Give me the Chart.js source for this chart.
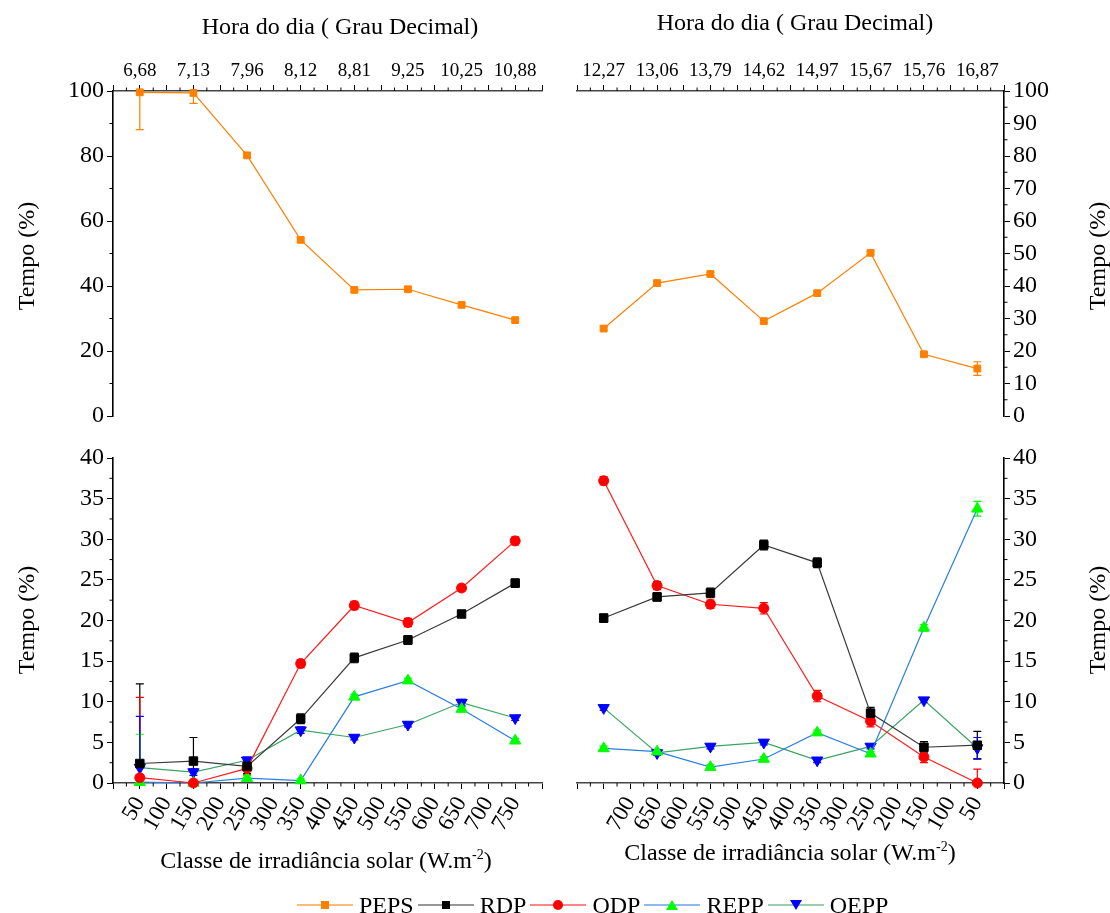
<!DOCTYPE html>
<html>
<head>
<meta charset="utf-8">
<script src="https://cdn.jsdelivr.net/npm/chart.js@4.4.0/dist/chart.umd.min.js"></script>
<style>
  body { margin:0; background:#fff; width:1110px; height:913px; position:relative; overflow:hidden;
         font-family:'Liberation Serif','Times New Roman',serif; color:#000; }
  canvas { position:absolute; left:0; top:0; }
  .t { position:absolute; font-size:24px; white-space:nowrap; transform:translate(-50%,-50%); }
  .v { transform:translate(-50%,-50%) rotate(-90deg); }
  sup { font-size:14px; vertical-align:9px; }
  #legend { position:absolute; left:297px; top:890px; display:flex; align-items:center; font-size:24px; line-height:30px; }
  #legend svg { display:block; }
  #legend span { margin:0 4px 0 6px; }
</style>
</head>
<body>
<canvas id="tl" width="1110" height="913"></canvas>
<canvas id="tr" width="1110" height="913"></canvas>
<canvas id="bl" width="1110" height="913"></canvas>
<canvas id="br" width="1110" height="913"></canvas>

<div class="t" style="left:340px;top:26px">Hora do dia ( Grau Decimal)</div>
<div class="t" style="left:795px;top:22px">Hora do dia ( Grau Decimal)</div>
<div class="t v" style="left:26px;top:256px">Tempo (%)</div>
<div class="t v" style="left:26px;top:620px">Tempo (%)</div>
<div class="t v" style="left:1097px;top:256px">Tempo (%)</div>
<div class="t v" style="left:1097px;top:620px">Tempo (%)</div>
<div class="t" style="left:326px;top:860px">Classe de irradiância solar (W.m<sup>-2</sup>)</div>
<div class="t" style="left:790px;top:852px">Classe de irradiância solar (W.m<sup>-2</sup>)</div>
<div id="legend"></div>

<script>
// classes de irradiancia (W.m-2)
const classesManha = [50, 150, 250, 350, 450, 550, 650, 750];
const classesTarde = [750, 650, 550, 450, 350, 250, 150, 50];
const horasManha = ['6,68', '7,13', '7,96', '8,12', '8,81', '9,25', '10,25', '10,88'];
const horasTarde = ['12,27', '13,06', '13,79', '14,62', '14,97', '15,67', '15,76', '16,87'];

// painel superior (PEPS)
const pepsManha = [99.6, 99.4, 80.2, 54.2, 38.8, 39.0, 34.2, 29.5];
const pepsManhaErr = [11.5, 3.2, 0.6, 0.6, 0.5, 0.5, 0.5, 0.5];
const pepsTarde = [26.9, 40.9, 43.7, 29.2, 37.8, 50.2, 19.0, 14.6];
const pepsTardeErr = [0.5, 0.5, 0.5, 0.5, 0.5, 0.5, 0.5, 2.1];

// painel inferior - manha
const rdpManha = [2.4, 2.7, 2.05, 7.9, 15.4, 17.6, 20.8, 24.6];
const rdpManhaErr = [9.8, 2.9, 0.9, 0.6, 0.6, 0.5, 0.4, 0.5];
const odpManha = [0.65, 0.0, 1.8, 14.7, 21.85, 19.75, 24.0, 29.8];
const odpManhaErr = [9.9, 0.3, 0.8, 0.5, 0.5, 0.5, 0.4, 0.5];
const reppManha = [0.1, 0.0, 0.6, 0.3, 10.6, 12.6, 9.1, 5.2];
const reppManhaErr = [5.9, 0.2, 0.3, 0.2, 0.3, 0.3, 0.3, 0.3];
const oeppManha = [1.9, 1.35, 2.8, 6.5, 5.6, 7.2, 9.9, 8.0];
const oeppManhaErr = [6.3, 0.4, 0.4, 0.4, 0.3, 0.3, 0.4, 0.3];

// painel inferior - tarde
const rdpTarde = [20.3, 22.9, 23.4, 29.3, 27.1, 8.6, 4.4, 4.65];
const rdpTardeErr = [0.5, 0.5, 0.6, 0.6, 0.6, 0.7, 0.7, 1.7];
const odpTarde = [37.2, 24.3, 22.0, 21.5, 10.7, 7.6, 3.2, 0.0];
const odpTardeErr = [0.5, 0.5, 0.5, 0.7, 0.7, 0.7, 0.7, 1.7];
const reppTarde = [4.25, 3.85, 1.95, 2.95, 6.2, 3.6, 19.1, 33.75];
const reppTardeErr = [0.3, 0.3, 0.3, 0.3, 0.3, 0.3, 0.4, 0.9];
const oeppTarde = [9.25, 3.7, 4.5, 5.0, 2.8, 4.5, 10.2, 4.3];
const oeppTardeErr = [0.3, 0.3, 0.3, 0.3, 0.3, 0.3, 0.3, 1.3];

const serif = "'Liberation Serif', 'Times New Roman', serif";

// estilos das series (linha, marcador)
const estilos = {
  PEPS: { line: '#ff8000', mark: '#ff8000', shape: 'rect', r: 4.8, rot: 0 },
  RDP:  { line: '#3a3a3a', mark: '#000000', shape: 'rect', r: 6, rot: 0 },
  ODP:  { line: '#ff1a1a', mark: '#ff0000', shape: 'circle', r: 5, rot: 0 },
  REPP: { line: '#2a7fe0', mark: '#00ff00', shape: 'triangle', r: 6.5, rot: 0 },
  OEPP: { line: '#3aa463', mark: '#0000ff', shape: 'triangle', r: 6.5, rot: 180 }
};

function serie(nome, xs, ys, errs) {
  const e = estilos[nome];
  return {
    label: nome,
    data: xs.map((x, i) => ({ x: x, y: ys[i] })),
    errors: errs,
    borderColor: e.line,
    borderWidth: 1.2,
    pointBackgroundColor: e.mark,
    pointBorderColor: e.mark,
    pointBorderWidth: 1,
    pointStyle: e.shape,
    pointRadius: e.r,
    pointRotation: e.rot,
    tension: 0,
    clip: false
  };
}

// barras de erro
const errorBars = {
  id: 'errorBars',
  beforeDatasetsDraw(chart) {
    const ctx = chart.ctx;
    const area = chart.chartArea;
    chart.data.datasets.forEach((ds, i) => {
      if (!ds.errors) return;
      const meta = chart.getDatasetMeta(i);
      const ys = chart.scales[meta.yAxisID];
      ctx.save();
      ctx.strokeStyle = ds.pointBackgroundColor;
      ctx.lineWidth = 1.2;
      meta.data.forEach((pt, j) => {
        const v = ds.data[j].y, e = ds.errors[j];
        if (!e) return;
        const yTop = ys.getPixelForValue(v + e);
        const yBot = ys.getPixelForValue(v - e);
        const top = Math.max(yTop, area.top), bot = Math.min(yBot, area.bottom);
        ctx.beginPath();
        ctx.moveTo(pt.x, top); ctx.lineTo(pt.x, bot);
        if (yTop >= area.top) { ctx.moveTo(pt.x - 4, yTop); ctx.lineTo(pt.x + 4, yTop); }
        if (yBot <= area.bottom) { ctx.moveTo(pt.x - 4, yBot); ctx.lineTo(pt.x + 4, yBot); }
        ctx.stroke();
      });
      ctx.restore();
    });
  }
};

// tracos menores dos eixos
const minorTicks = {
  id: 'minorTicks',
  afterDraw(chart, args, opts) {
    const ctx = chart.ctx;
    ctx.save();
    ctx.strokeStyle = '#000';
    ctx.lineWidth = 1;
    Object.values(chart.scales).forEach(s => {
      const step = opts[s.axis];
      if (!step) return;
      for (let v = s.min; v <= s.max + 1e-9; v += step) {
        if (s.ticks.some(t => Math.abs(t.value - v) < 1e-6)) continue;
        const p = s.getPixelForValue(v);
        ctx.beginPath();
        if (s.position === 'left') { ctx.moveTo(s.right, p); ctx.lineTo(s.right - 3.5, p); }
        if (s.position === 'right') { ctx.moveTo(s.left, p); ctx.lineTo(s.left + 3.5, p); }
        if (s.position === 'top') { ctx.moveTo(p, s.bottom); ctx.lineTo(p, s.bottom - 3.5); }
        if (s.position === 'bottom') { ctx.moveTo(p, s.top); ctx.lineTo(p, s.top + 3.5); }
        ctx.stroke();
      }
    });
    ctx.restore();
  }
};

function eixoX(pos, reverse, labelFn, size) {
  const rot = pos === 'bottom' ? 60 : 0;
  return {
    type: 'linear', position: pos, min: 0, max: 800, reverse: reverse,
    grid: { drawOnChartArea: false, drawTicks: true, tickLength: 6, color: '#000' },
    border: { display: true, color: '#444', width: 1.6 },
    ticks: {
      stepSize: 50, autoSkip: false, includeBounds: true,
      maxRotation: rot, minRotation: rot, padding: pos === 'bottom' ? 3 : 3,
      color: '#000', font: { family: serif, size: pos === 'bottom' ? 23 : 19 },
      callback: labelFn
    },
    afterFit(s) { s.height = size; }
  };
}

function eixoY(pos, max, step, size) {
  return {
    type: 'linear', position: pos, min: 0, max: max,
    grid: { drawOnChartArea: false, drawTicks: true, tickLength: 6, color: '#000' },
    border: { display: true, color: '#000', width: 1.6 },
    ticks: { stepSize: step, color: '#000', padding: 3, font: { family: serif, size: 24 } },
    afterFit(s) { s.width = size; }
  };
}

function horaLabel(xs, horas) {
  return v => { const i = xs.indexOf(v); return i >= 0 ? horas[i] : ''; };
}
const classeManhaLabel = v => (v > 0 && v < 800 ? String(v) : '');
const classeTardeLabel = v => (v > 0 && v < 750 ? String(v) : '');

function painel(id, datasets, xAxis, yAxis, padding, minor) {
  return new Chart(document.getElementById(id), {
    type: 'line',
    data: { datasets: datasets },
    options: {
      responsive: false, animation: false,
      layout: { padding: padding },
      plugins: { legend: { display: false }, tooltip: { enabled: false }, minorTicks: minor },
      scales: { x: xAxis, y: yAxis }
    },
    plugins: [errorBars, minorTicks]
  });
}

painel('tl',
  [serie('PEPS', classesManha, pepsManha, pepsManhaErr)],
  eixoX('top', false, horaLabel(classesManha, horasManha), 91),
  eixoY('left', 100, 20, 113),
  { left: 0, top: 0, right: 568, bottom: 497 },
  { x: 25, y: 10 });

painel('tr',
  [serie('PEPS', classesTarde, pepsTarde, pepsTardeErr)],
  eixoX('top', true, horaLabel(classesTarde, horasTarde), 91),
  eixoY('right', 100, 10, 106),
  { left: 577, top: 0, right: 0, bottom: 497 },
  { x: 25, y: 5 });

painel('bl',
  [serie('RDP', classesManha, rdpManha, rdpManhaErr),
   serie('ODP', classesManha, odpManha, odpManhaErr),
   serie('REPP', classesManha, reppManha, reppManhaErr),
   serie('OEPP', classesManha, oeppManha, oeppManhaErr)],
  eixoX('bottom', false, classeManhaLabel, 130),
  eixoY('left', 40, 5, 113),
  { left: 0, top: 458, right: 568, bottom: 0 },
  { x: 25, y: 2.5 });

painel('br',
  [serie('RDP', classesTarde, rdpTarde, rdpTardeErr),
   serie('ODP', classesTarde, odpTarde, odpTardeErr),
   serie('REPP', classesTarde, reppTarde, reppTardeErr),
   serie('OEPP', classesTarde, oeppTarde, oeppTardeErr)],
  eixoX('bottom', true, classeTardeLabel, 130),
  eixoY('right', 40, 5, 106),
  { left: 577, top: 458, right: 0, bottom: 0 },
  { x: 25, y: 2.5 });

// legenda
function marcadorSvg(e) {
  let m = '';
  if (e.shape === 'rect') m = `<rect x="24" y="6" width="8" height="8" fill="${e.mark}"/>`;
  else if (e.shape === 'circle') m = `<circle cx="28" cy="10" r="5" fill="${e.mark}"/>`;
  else if (e.rot === 180) m = `<polygon points="22,5 34,5 28,15" fill="${e.mark}"/>`;
  else m = `<polygon points="22,15 34,15 28,5" fill="${e.mark}"/>`;
  return `<svg width="56" height="20"><line x1="0" y1="10" x2="56" y2="10" stroke="${e.line}" stroke-width="1.6" stroke-opacity="0.7"/>${m}</svg>`;
}
const legenda = document.getElementById('legend');
Object.keys(estilos).forEach(nome => {
  legenda.insertAdjacentHTML('beforeend', marcadorSvg(estilos[nome]) + `<span>${nome}</span>`);
});
</script>
</body>
</html>
